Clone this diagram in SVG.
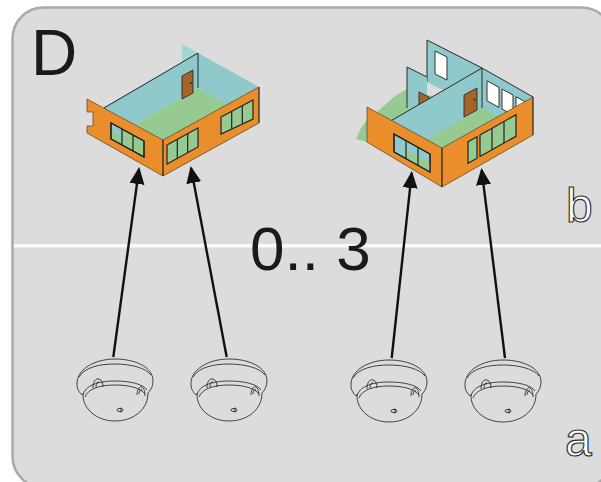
<svg xmlns="http://www.w3.org/2000/svg" width="601" height="482" viewBox="0 0 601 482">
  <style>
    .frame { fill: #dcdcdc; stroke: #a9a9a9; stroke-width: 2.5; }
    .sep { stroke: #fafafa; stroke-width: 3.5; }
    .big { font-family: "Liberation Sans", Arial, sans-serif; fill: #1a1a1a; }
    .hollow { font-family: "Liberation Sans", Arial, sans-serif; fill: #ffffff; stroke: #333333; stroke-width: 1.2; }
    .orange { fill: #ea8e2b; stroke: #5a4020; stroke-width: 0.7; }
    .blue { fill: #8fc9cc; stroke: none; }
    .blue2 { fill: #a3d4d6; stroke: none; }
    .green { fill: #97ca91; stroke: none; }
    .edge { fill: none; stroke: #2a2a2a; stroke-width: 1; }
    .win { fill: #97ca91; stroke: #222222; stroke-width: 1.2; }
    .winb { fill: #8fc9cc; stroke: #222222; stroke-width: 1.2; }
    .wwin { fill: #ffffff; stroke: #333333; stroke-width: 1; }
    .door { fill: #a4642a; stroke: #2a2a2a; stroke-width: 0.9; }
    .pane { fill: none; stroke: #222222; stroke-width: 1.2; }
    .det { fill: none; stroke: #1a1a1a; stroke-width: 0.8; }
    .arrow { fill: none; stroke: #111111; stroke-width: 2.4; marker-end: url(#head); }
  </style>
  <defs>
    <marker id="head" markerUnits="userSpaceOnUse" markerWidth="18" markerHeight="16" refX="15" refY="7.5" orient="auto">
      <path d="M0,0 L17,7.5 L0,15 Z" fill="#111111"/>
    </marker>
    <!-- smoke detector, origin at the top centre of the dome -->
    <g id="detector" class="det">
      <path d="M-38,26 C-39,10 -20,0 0,0 C20,0 38,8 38,22"/>
      <path d="M-36,18 C-30,8 -15,5 0,5 C16,5 31,9 36,16"/>
      <path d="M-38,26 C-38,30 -36,33 -33,36"/>
      <path d="M38,22 C38,27 36,31 33,34"/>
      <path d="M-32,34 C-33,50 -18,62 0,62 C18,62 33,51 33,34"/>
      <path d="M-32,36 C-30,27 -18,22 0,22 C15,22 28,25 32,31"/>
      <path d="M-30,38 C-27,30 -16,26 0,26 C14,26 26,29 30,35"/>
      <path d="M-22,29 C-22,22 -19,19 -16,20 C-13,21 -12,24 -12,28"/>
      <path d="M-19,28 C-19,24 -17,22 -16,23"/>
      <path d="M22,36 C22,30 25,27 27,28 C29,29 30,33 30,37"/>
      <path d="M24,35 C24,32 26,30 27,31"/>
      <ellipse cx="5" cy="51" rx="3" ry="1.6"/>
      <path d="M6,48.5 L6,53.5"/>
    </g>
  </defs>

  <!-- panel -->
  <rect class="frame" x="12.5" y="7.5" width="600" height="480" rx="31" ry="31"/>
  <line class="sep" x1="13.8" y1="245.8" x2="601" y2="245.8"/>

  <text class="big" x="31" y="75" font-size="64">D</text>
  <text class="big" x="250" y="270" font-size="62" xml:space="preserve">0.. 3</text>
  <text class="hollow" x="566" y="222" font-size="48">b</text>
  <text class="hollow" x="565" y="456" font-size="48">a</text>

  <!-- single-room house -->
  <g id="house-left">
    <polygon class="green" points="104,143 198,88 259,123 163,176"/>
    <polygon class="blue2" points="182,44 198,53 198,88 182,80"/>
    <polygon class="blue" points="198,53 259,87 259,123 198,88"/>
    <polygon class="blue" points="104,107 198,53 198,88 104,143"/>
    <path class="edge" d="M104,108 L198,53 L198,88"/>
    <polygon class="door" points="182,76 193,70 193,93 182,99"/>
    <circle cx="191" cy="83" r="0.9" fill="#222"/>
    <path class="orange" d="M87,99 L163,140 L163,176 L87,133 L87,126 L93,126 L93,112 L87,112 Z"/>
    <polygon class="orange" points="163,140 259,87 259,123 163,176"/>
    <path class="edge" d="M163,140 L163,176 M259,87 L259,123"/>
    <polygon class="win" points="111,123 144,141 144,157 111,139"/>
    <polygon class="blue" points="112,124 121,129 121,136 112,131"/>
    <path class="pane" d="M111,123 L144,141 L144,157 L111,139 Z M122,129 L122,145 M133,135 L133,151"/>
    <polygon class="win" points="167,145 198,128 198,147 167,164"/>
    <path class="pane" d="M177.3,139.3 L177.3,158.3 M187.7,133.7 L187.7,152.7"/>
    <polygon class="win" points="221,117 253,100 253,119 221,134"/>
    <path class="pane" d="M231.7,111.3 L231.7,128.7 M242.3,105.7 L242.3,123.3"/>
  </g>

  <!-- multi-room house -->
  <g id="house-right">
    <polygon class="green" points="356,139 361,128 366,121 378,111 395,96 407,89 427,95 482,108 533,97 533,135 442,187 367,142"/>
    <polygon class="blue" points="427,40 482,68 482,110 427,82"/>
    <path class="edge" d="M427,82 L427,40 L482,68"/>
    <polygon class="wwin" points="435,51 447,57 447,80 435,74"/>
    <polygon class="blue" points="407,67 427,77 427,110 407,108"/>
    <path class="edge" d="M407,108 L407,67 L427,77"/>
    <polygon class="door" points="419,92 429,97 429,112 419,112"/>
    <polygon class="blue" points="482,68 533,97 533,135 482,108"/>
    <path class="edge" d="M482,68 L533,97"/>
    <polygon class="wwin" points="487,80.8 499,87.4 499,107.4 487,100.8"/>
    <polygon class="wwin" points="502,89 513,95 513,115 502,109"/>
    <polygon class="wwin" points="516,96.7 526,102.2 526,122.2 516,116.7"/>
    <polygon class="blue" points="370,133 482,68 482,108 400,155"/>
    <path class="edge" d="M370,133 L482,68 L482,108"/>
    <polygon class="door" points="464,95 477,88 477,110 464,117"/>
    <circle cx="474.5" cy="99.5" r="0.9" fill="#222"/>
    <polygon class="orange" points="367,107 442,148 442,187 367,142"/>
    <polygon class="orange" points="442,148 533,97 533,135 442,187"/>
    <path class="edge" d="M442,148 L442,187 M533,97 L533,135"/>
    <polygon class="winb" points="394,134 430,154 430,172 394,152"/>
    <polygon class="green" points="406,150 430,163 430,171.4 406,158"/>
    <path class="pane" d="M394,134 L430,154 L430,172 L394,152 Z M406,140.7 L406,158.7 M418,147.3 L418,165.3"/>
    <polygon class="win" points="468,141.7 477,136.7 477,158.2 468,163.2"/>
    <polygon class="win" points="480,135 516,114.8 516,136.3 480,156.5"/>
    <path class="pane" d="M492,128.3 L492,149.8 M504,121.5 L504,143"/>
  </g>

  <!-- detectors -->
  <g id="detector-1"><use href="#detector" x="115" y="359"/></g>
  <g id="detector-2"><use href="#detector" x="229" y="359"/></g>
  <g id="detector-3"><use href="#detector" x="389" y="360"/></g>
  <g id="detector-4"><use href="#detector" x="503" y="360"/></g>

  <!-- connectors -->
  <g id="connectors">
    <line class="arrow" x1="113.3" y1="357" x2="139" y2="169"/>
    <line class="arrow" x1="226.7" y1="357" x2="191" y2="168"/>
    <line class="arrow" x1="391.7" y1="358" x2="411.7" y2="173"/>
    <line class="arrow" x1="505" y1="358" x2="481.7" y2="170"/>
  </g>
</svg>
